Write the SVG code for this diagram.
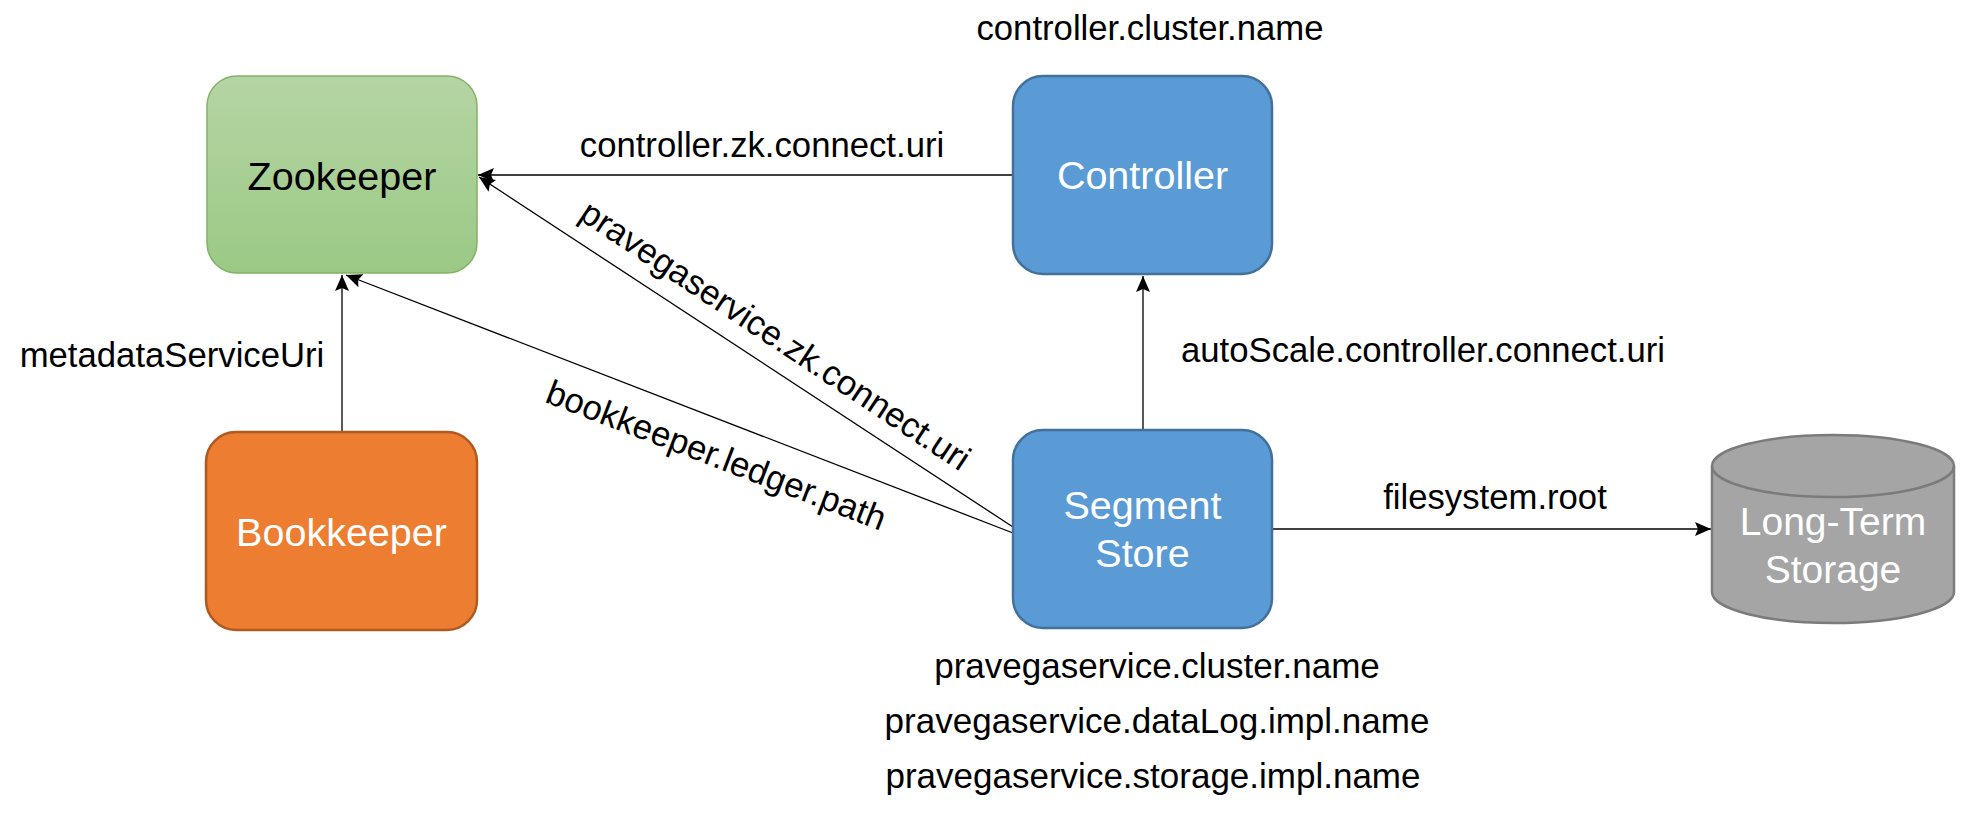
<svg xmlns="http://www.w3.org/2000/svg" width="1976" height="820" viewBox="0 0 1976 820">
<style>
text{font-family:"Liberation Sans",Arial,sans-serif;}
.lbl{font-size:34.7px;fill:#000;text-anchor:middle;}
.btm{font-size:35px;fill:#000;text-anchor:middle;}
.nt{font-size:39.5px;text-anchor:middle;}
.w{fill:#fff;}
.edge{stroke:#000;stroke-width:1.3;fill:none;marker-end:url(#arr);}
</style>
<defs>
<linearGradient id="gz" x1="0" y1="0" x2="0" y2="1">
<stop offset="0" stop-color="#B5D5A4"/>
<stop offset="1" stop-color="#9BC985"/>
</linearGradient>
<marker id="arr" markerUnits="userSpaceOnUse" markerWidth="17" markerHeight="15" refX="16" refY="7.5" orient="auto">
<path d="M0,0.5 L16,7.5 L0,14.5 L3,7.5 Z" fill="#000"/>
</marker>
</defs>
<rect width="1976" height="820" fill="#fff"/>
<g id="connectors">
<line class="edge" x1="1013" y1="175" x2="478" y2="175"/>
<line class="edge" x1="1013" y1="527" x2="479" y2="177"/>
<line class="edge" x1="1013" y1="533" x2="346" y2="275"/>
<line class="edge" x1="342" y1="432" x2="342" y2="275"/>
<line class="edge" x1="1143" y1="430" x2="1143" y2="276"/>
<line class="edge" x1="1272" y1="529" x2="1711" y2="529"/>
</g>
<g id="labels">
<text class="lbl" x="1150" y="40">controller.cluster.name</text>
<text class="lbl" x="762" y="157">controller.zk.connect.uri</text>
<text class="lbl" transform="translate(775,336) rotate(33.5)" x="0" y="11">pravegaservice.zk.connect.uri</text>
<text class="lbl" transform="translate(716,456) rotate(21)" x="0" y="11">bookkeeper.ledger.path</text>
<text class="lbl" x="172" y="367">metadataServiceUri</text>
<text class="lbl" x="1423" y="362">autoScale.controller.connect.uri</text>
<text class="lbl" x="1495" y="509">filesystem.root</text>
<text class="btm" x="1157" y="678">pravegaservice.cluster.name</text>
<text class="btm" x="1157" y="733">pravegaservice.dataLog.impl.name</text>
<text class="btm" x="1153" y="788">pravegaservice.storage.impl.name</text>
</g>
<g id="zookeeper">
<rect x="207" y="76" width="270" height="197" rx="30" ry="30" fill="url(#gz)" stroke="#82B366" stroke-width="1.5"/>
<text class="nt" x="342" y="190" fill="#000">Zookeeper</text>
</g>
<g id="controller">
<rect x="1013" y="76" width="259" height="198" rx="30" ry="30" fill="#5B9BD5" stroke="#41719C" stroke-width="2.5"/>
<text class="nt w" x="1142.5" y="189">Controller</text>
</g>
<g id="bookkeeper">
<rect x="206" y="432" width="271" height="198" rx="30" ry="30" fill="#ED7D31" stroke="#AE5A21" stroke-width="2.5"/>
<text class="nt w" x="341.5" y="546">Bookkeeper</text>
</g>
<g id="segmentstore">
<rect x="1013" y="430" width="259" height="198" rx="30" ry="30" fill="#5B9BD5" stroke="#41719C" stroke-width="2.5"/>
<text class="nt w" x="1142.5" y="519">Segment</text>
<text class="nt w" x="1142.5" y="567">Store</text>
</g>
<g id="longtermstorage">
<path d="M1712,466 A121,31 0 0 1 1954,466 L1954,592 A121,31 0 0 1 1712,592 Z" fill="#A5A5A5" stroke="#7B7B7B" stroke-width="2.5"/>
<path d="M1712,466 A121,31 0 0 0 1954,466" fill="none" stroke="#7B7B7B" stroke-width="2.5"/>
<text class="nt w" x="1833" y="535" style="font-size:39px">Long-Term</text>
<text class="nt w" x="1833" y="583" style="font-size:39px">Storage</text>
</g>
</svg>
